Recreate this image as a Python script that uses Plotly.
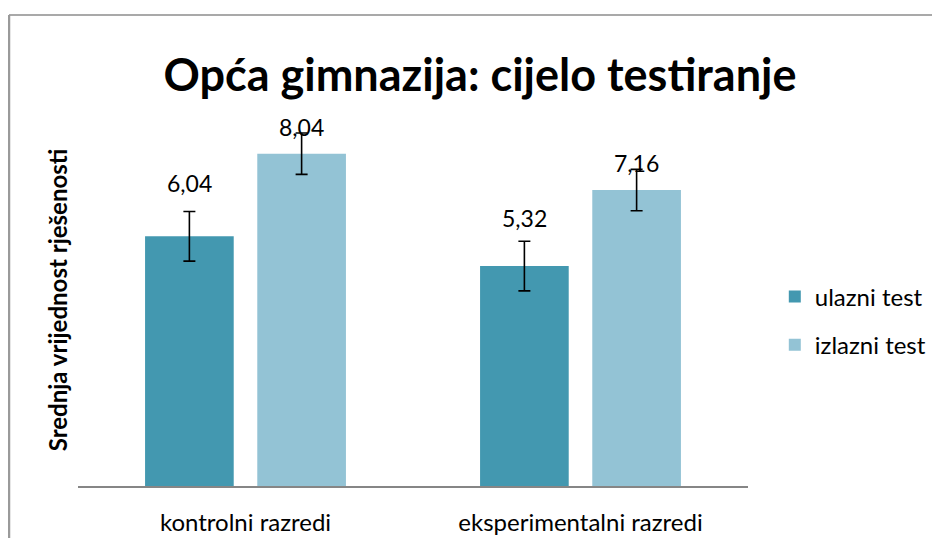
import plotly.graph_objects as go

# ---- data ----
categories = ["kontrolni razredi", "eksperimentalni razredi"]
series_names = ["ulazni test", "izlazni test"]
ulazni = [6.04, 5.32]
izlazni = [8.04, 7.16]
ulazni_err = [0.6, 0.6]
izlazni_err = [0.5, 0.5]
y_range = [0, 9]

# ---- style ----
DARK = "#4398b0"
LIGHT = "#93c3d5"
FONT = "Lato"
BARGAP = 0.33
BARGROUPGAP = 0.21
LABEL_SHIFT = [[53, 48], [27, 27]]  # px above bar top for label centre, per series

# page has an 8px body margin; figure is sized to fill the rest of the window
W, H = 932, 530
ML, MR, MT, MB = 70, 192, 106, 52
PW, PH = W - ML - MR, H - MT - MB

fig = go.Figure()
series = [(series_names[0], ulazni, ulazni_err, DARK), (series_names[1], izlazni, izlazni_err, LIGHT)]
for j, (name, vals, errs, col) in enumerate(series):
    fig.add_trace(go.Bar(
        x=categories, y=vals, name=name, marker_color=col, marker_line_width=0,
        legendgroup=name,
        error_y=dict(type="data", array=errs, visible=True, color="black", thickness=1.6, width=6),
        hoverinfo="skip",
    ))

slot = (1 - BARGAP) / len(series)
annotations = []
for j, (name, vals, errs, col) in enumerate(series):
    for i, v in enumerate(vals):
        annotations.append(dict(
            x=i + (j - (len(series) - 1) / 2) * slot, y=v, xref="x", yref="y",
            text=f"{v:.2f}".replace(".", ","), showarrow=False,
            yanchor="middle", yshift=LABEL_SHIFT[j][i],
            font=dict(family=FONT, size=23, color="black"),
        ))

bx = (1 - ML) / PW          # left border line
by = (PH + MT - 7) / PH     # top border line

fig.update_layout(
    width=W, height=H,
    margin=dict(l=ML, r=MR, t=MT, b=MB, autoexpand=False),
    paper_bgcolor="white", plot_bgcolor="white",
    barmode="group", bargap=BARGAP, bargroupgap=BARGROUPGAP,
    title=dict(text="<b>Opća gimnazija: cijelo testiranje</b>", x=472 / W, xanchor="center",
               xref="container", y=1 - 67 / H, yanchor="middle", yref="container",
               font=dict(family=FONT, size=45, color="black")),
    legend=dict(x=1.04, xanchor="left", y=0.444, yanchor="middle",
                font=dict(family=FONT, size=24, color="black"),
                tracegroupgap=14, bgcolor="rgba(0,0,0,0)"),
    annotations=annotations,
    shapes=[
        dict(type="line", xref="paper", yref="paper", x0=bx, x1=1.6, y0=by, y1=by,
             line=dict(color="#8c8c8c", width=1.5)),
        dict(type="line", xref="paper", yref="paper", x0=bx, x1=bx, y0=by, y1=-0.5,
             line=dict(color="#9a9a9a", width=2.5)),
    ],
    showlegend=True,
)
fig.update_xaxes(showline=True, linecolor="#868686", linewidth=1.5, ticks="", showgrid=False, automargin=False,
                 tickfont=dict(family=FONT, size=24, color="black"), ticklabelstandoff=14)
fig.update_yaxes(range=y_range, showticklabels=False, showgrid=False, zeroline=False, showline=False,
                 automargin=False,
                 title=dict(text="<b>Srednja vrijednost rješenosti</b>", standoff=2,
                            font=dict(family=FONT, size=24, color="black")))

fig.write_html("out.html")
